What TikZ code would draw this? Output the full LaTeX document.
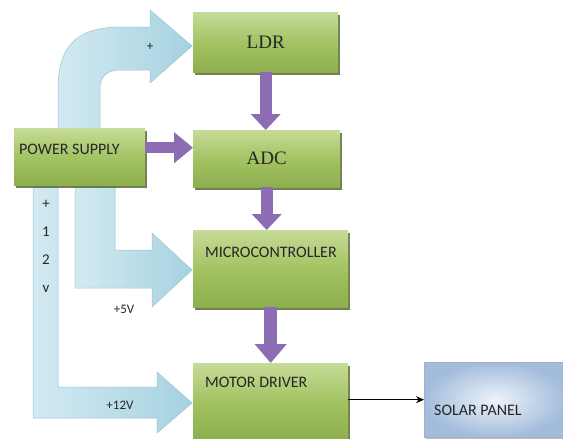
\documentclass[tikz,border=0pt]{standalone}
\usepackage{fontspec}
\setmainfont{Carlito}
\newfontfamily\timesfont{Liberation Serif}
\usetikzlibrary{
    arrows.meta,
    shadows,
    calc,
    positioning
}
\definecolor{grnlight}{HTML}{C6DB98}
\definecolor{grnmid}{HTML}{A4C363}
\definecolor{grndark}{HTML}{8DAF4E}
\definecolor{grnshadow}{HTML}{4F6228}
\definecolor{purp}{HTML}{8C6CB3}
\definecolor{blulight}{HTML}{D2EAF2}
\definecolor{bludark}{HTML}{A6D2E0}
\definecolor{bluedge}{HTML}{9AC4D3}
\definecolor{panlight}{HTML}{EEF3F9}
\definecolor{pandark}{HTML}{A3BCDC}
\definecolor{txt}{HTML}{262626}

\begin{document}
\begin{tikzpicture}[x=1pt, y=-1pt,
    box/.style={anchor=north west, inner sep=0pt, text=txt,
        top color=grnlight, bottom color=grndark, middle color=grnmid,
        drop shadow={shadow xshift=2pt, shadow yshift=-2.5pt, fill=grnshadow, opacity=0.8}},
    lbl/.style={inner sep=0pt, text=txt, font=\fontsize{16}{18}\selectfont},
    small/.style={inner sep=0pt, text=txt, font=\fontsize{13}{15}\selectfont},
    barrow/.style={draw=bluedge, line width=0.5pt, left color=blulight, right color=bludark},
    parrow/.style={draw=purp, line width=12pt, -{Triangle[width=29pt, length=16pt]}}]
                        \useasboundingbox (0, 0) rectangle (563, 439);
                        \fill[white] (0, 0) rectangle (563, 439);
                        % supply arrows (behind the boxes)
                        \draw[barrow]
                        (58, 132) -- (58, 90) .. controls (58, 42) and (80, 27) .. (122, 27)
                        -- (150, 27) -- (150, 10) -- (192, 46) -- (150, 83) -- (150, 70)
                        -- (120, 70) .. controls (108, 70) and (100, 76) .. (100, 88) -- (100, 132) -- cycle;
                        \draw[barrow]
                        (33, 180) -- (33, 418) -- (157, 418) -- (157, 433) -- (192, 403)
                        -- (157, 372) -- (157, 387) -- (58, 387) -- (58, 180) -- cycle;
                        \draw[barrow]
                        (75, 180) -- (75, 288) -- (152, 288) -- (152, 307) -- (192, 270)
                        -- (152, 233) -- (152, 250) -- (115, 250) -- (115, 180) -- cycle;
                        % blocks
                        \node[box, minimum width=145pt, minimum height=60pt,
                            font=\timesfont\fontsize{19}{21}\selectfont] (ldr) at (193, 12) {LDR};
                        \node[box, minimum width=147pt, minimum height=57pt,
                            font=\timesfont\fontsize{19}{21}\selectfont] (adc) at (193, 130) {ADC};
                        \node[box, minimum width=131pt, minimum height=57pt] (power) at (14, 128) {};
                        \node[box, minimum width=155pt, minimum height=77pt] (micro) at (193, 230) {};
                        \node[box, minimum width=155pt, minimum height=75pt] (motor) at (193, 363) {};
                        \node[anchor=north west, minimum width=142pt, minimum height=75pt,
                            draw=pandark!80!gray, line width=0.4pt, inner color=panlight, outer color=pandark,
                            drop shadow={shadow xshift=1.5pt, shadow yshift=-2pt, fill=gray, opacity=0.5}]
                            (solar) at (424, 362) {};
                        \node[lbl, anchor=west] (power-t) at (19, 149) {POWER SUPPLY};
                        \node[lbl, anchor=west] (micro-t) at (205, 252) {MICROCONTROLLER};
                        \node[lbl, anchor=west] (motor-t) at (205, 382) {MOTOR DRIVER};
                        \node[lbl, anchor=west] (solar-t) at (434, 410) {SOLAR PANEL};
                        % supply labels
                        \node[small] (plus) at (150, 47) {+};
                        \node[small] (v5) at (124, 309) {+5V};
                        \node[small] (v12) at (120, 405) {+12V};
                        \node[inner sep=0pt, align=center, text=txt, font=\fontsize{15}{28}\selectfont] (v12s) at (46, 246) {+\\1\\2\\v};
                        % signal flow
                        \draw[parrow] (ldr.south) -- (ldr.south |- adc.north);
                        \draw[parrow] (adc.south) -- (adc.south |- micro.north);
                        \draw[parrow, line width=13pt, -{Triangle[width=31pt, length=19pt]}]
                        (micro.south) -- (micro.south |- motor.north);
                        \draw[parrow, line width=11pt, -{Triangle[width=30pt, length=19pt]}]
                        ([yshift=9pt]power.east) -- ([yshift=9pt]power.east -| adc.west);
                        \draw[-{Stealth[length=8pt, width=7pt]}, line width=0.8pt]
                        (motor.east |- solar.west) -- (solar.west);
                    \end{tikzpicture}
\end{document}
